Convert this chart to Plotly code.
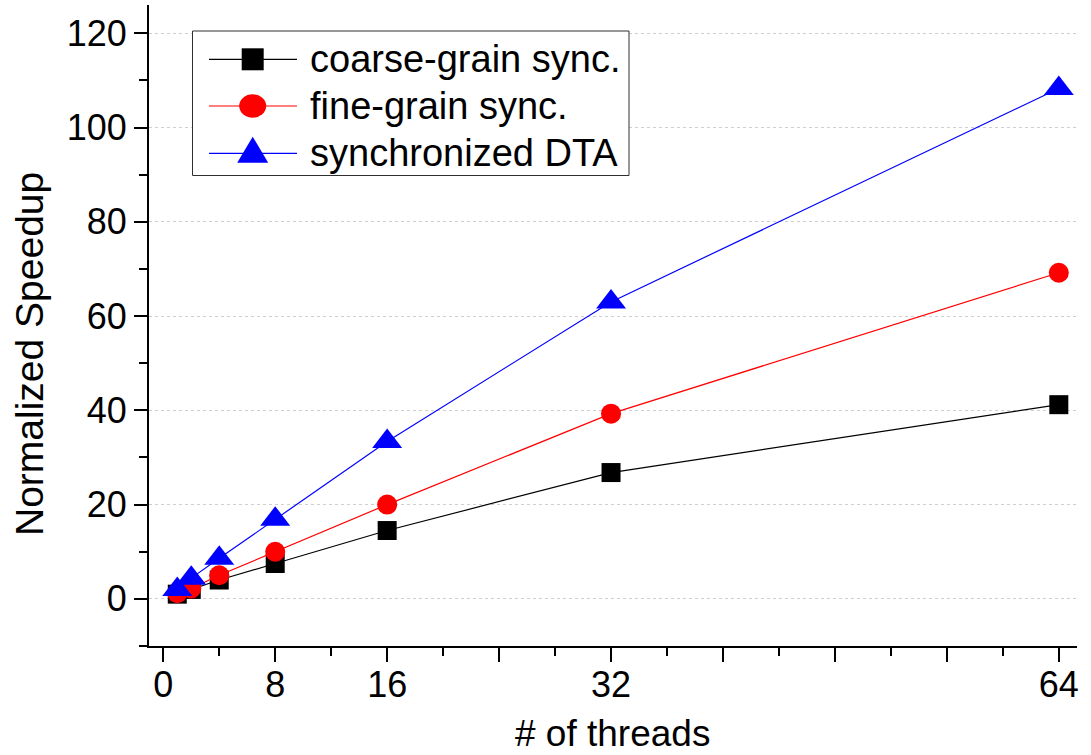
import plotly.graph_objects as go

# ---------------- data ----------------
threads = [1, 2, 4, 8, 16, 32, 64]
coarse_grain = [1.0, 2.0, 4.0, 7.5, 14.5, 26.8, 41.2]
fine_grain = [1.2, 2.2, 5.0, 10.0, 20.0, 39.3, 69.2]
sync_dta = [2.0, 4.4, 8.6, 16.9, 33.4, 63.0, 108.3]

series_names = ["coarse-grain sync.", "fine-grain sync.", "synchronized DTA"]
series_values = [coarse_grain, fine_grain, sync_dta]
series_colors = ["#000000", "#ff0000", "#0000ff"]
series_symbols = ["square", "circle", "triangle-up"]
series_sizes = [19, 20, 26]

x_tick_vals = [0, 8, 16, 24, 32, 40, 48, 56, 64]
x_tick_text = ["0", "8", "16", "", "32", "", "", "", "64"]
y_tick_vals = [0, 20, 40, 60, 80, 100, 120]

x_title = "# of threads"
y_title = "Normalized Speedup"

FONT = "Liberation Sans, Arial, Helvetica, sans-serif"

# ---------------- layout geometry (pixels) ----------------
W, H = 1091, 755
PL, PR, PT, PB = 149, 1077, 5, 646  # plot area edges


def px(x):
    return (x - PL) / (PR - PL)


def py(y):
    return (PB - y) / (PB - PT)


fig = go.Figure()
for name, vals, col, sym, sz in zip(series_names, series_values, series_colors,
                                    series_symbols, series_sizes):
    fig.add_trace(go.Scatter(
        x=threads, y=vals, name=name, mode="lines+markers",
        line=dict(color=col, width=1.2),
        marker=dict(symbol=sym, size=sz, color=col, line=dict(width=0)),
        showlegend=False,
    ))

# ---------------- custom legend ----------------
shapes = []
annotations = []
shapes.append(dict(type="rect", xref="paper", yref="paper",
                   x0=px(192.5), x1=px(629), y0=py(175.5), y1=py(31),
                   line=dict(color="#303030", width=1), fillcolor="white",
                   layer="above"))
row_y = [59.3, 106.0, 153.3]
line_x0, line_x1, mk_x, txt_x = 209, 297, 252.7, 308
for name, col, sym, ry in zip(series_names, series_colors, series_symbols, row_y):
    shapes.append(dict(type="line", xref="paper", yref="paper",
                       x0=px(line_x0), x1=px(line_x1), y0=py(ry), y1=py(ry),
                       line=dict(color=col, width=1.2), layer="above"))
    if sym == "square":
        h = 11
        shapes.append(dict(type="rect", xref="paper", yref="paper",
                           x0=px(mk_x - h), x1=px(mk_x + h), y0=py(ry + h), y1=py(ry - h),
                           line=dict(width=0), fillcolor=col, layer="above"))
    elif sym == "circle":
        shapes.append(dict(type="circle", xref="paper", yref="paper",
                           x0=px(mk_x - 13.5), x1=px(mk_x + 13.5),
                           y0=py(ry + 11.7), y1=py(ry - 11.7),
                           line=dict(width=0), fillcolor=col, layer="above"))
    else:
        top, base, hw = ry - 16.6, ry + 9.4, 15.5
        path = "M{:.5f},{:.5f} L{:.5f},{:.5f} L{:.5f},{:.5f} Z".format(
            px(mk_x - hw), py(base), px(mk_x + hw), py(base), px(mk_x), py(top))
        shapes.append(dict(type="path", xref="paper", yref="paper", path=path,
                           line=dict(width=0), fillcolor=col, layer="above"))
    annotations.append(dict(text=name, xref="paper", yref="paper",
                            x=px(txt_x), y=py(ry), xanchor="left", yanchor="middle",
                            showarrow=False, font=dict(family=FONT, size=38, color="black")))

# axis titles as annotations
annotations.append(dict(text=x_title, xref="paper", yref="paper",
                        x=px(612.5), y=py(733), xanchor="center", yanchor="middle",
                        borderpad=0,
                        showarrow=False, font=dict(family=FONT, size=37, color="black")))
annotations.append(dict(text=y_title, xref="paper", yref="paper",
                        x=px(29), y=py(354), xanchor="center", yanchor="middle",
                        textangle=-90, showarrow=False,
                        font=dict(family=FONT, size=39, color="black")))

fig.update_layout(
    width=W, height=H, autosize=False,
    margin=dict(l=PL, r=W - PR, t=PT, b=H - PB, pad=0),
    paper_bgcolor="white", plot_bgcolor="white",
    font=dict(family=FONT, size=36, color="black"),
    showlegend=False,
    shapes=shapes, annotations=annotations,
)
fig.update_xaxes(
    range=[-1.02, 65.3], tickmode="array", tickvals=x_tick_vals, ticktext=x_tick_text,
    ticks="outside", ticklen=14, tickwidth=2, tickcolor="black",
    ticklabelstandoff=-8,
    showline=True, linewidth=2, linecolor="black", mirror=False,
    showgrid=False, zeroline=False,
    tickfont=dict(family=FONT, size=36, color="black"),
    minor=dict(tick0=0, dtick=4, ticks="outside", ticklen=8, tickwidth=2,
               tickcolor="black", showgrid=False),
)
fig.update_yaxes(
    range=[-10, 126], tickmode="array", tickvals=y_tick_vals,
    ticks="outside", ticklen=13, tickwidth=2, tickcolor="black",
    showline=True, linewidth=2, linecolor="black", mirror=False,
    showgrid=True, gridcolor="#cfcfcf", gridwidth=1, griddash="dot",
    zeroline=False,
    tickfont=dict(family=FONT, size=36, color="black"),
    minor=dict(tick0=0, dtick=10, ticks="outside", ticklen=8, tickwidth=2,
               tickcolor="black", showgrid=False),
)

fig.write_html("out.html")
